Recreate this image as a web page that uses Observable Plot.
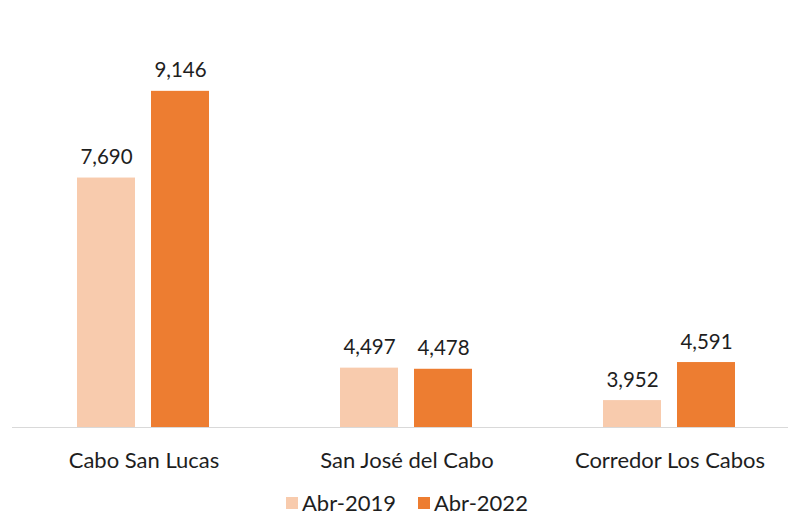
<!DOCTYPE html>
<html>
<head>
<meta charset="utf-8">
<script src="https://cdn.jsdelivr.net/npm/d3@7"></script>
<script src="https://cdn.jsdelivr.net/npm/@observablehq/plot@0.6"></script>
<style>
  html, body { margin: 0; padding: 0; background: #fff; }
  #wrap { position: relative; width: 788px; height: 515px; overflow: hidden; font-family: Lato, sans-serif; color: #1e1e1e; }
  #legend { position: absolute; left: 286px; top: 491px; height: 24px; line-height: 24px; display: flex; align-items: center; font-size: 22px; }
  .item { display: flex; align-items: center; margin-right: 22px; }
  .sw { width: 12px; height: 12px; margin-right: 4px; }
</style>
</head>
<body>
<div id="wrap"><div id="chart"></div><div id="legend"></div></div>
<script>
const categories = ["Cabo San Lucas", "San José del Cabo", "Corredor Los Cabos"];
const series = ["Abr-2019", "Abr-2022"];
const values2019 = [7690, 4497, 3952];
const values2022 = [9146, 4478, 4591];
const colors = ["#F8CBAD", "#ED7D31"];
const yMin = 3500, yMax = 10000;

const data = [];
categories.forEach((c, i) => {
  data.push({category: c, series: series[0], value: values2019[i]});
  data.push({category: c, series: series[1], value: values2022[i]});
});
const fmt = d3.format(",");

const chart = Plot.plot({
  width: 788,
  height: 488,
  marginLeft: 11,
  marginRight: -13,
  marginTop: 40,
  marginBottom: 61,
  style: {fontFamily: "Lato, sans-serif", fontSize: "22px", color: "#1e1e1e", background: "white"},
  fx: {domain: categories, padding: 0, axis: "bottom", label: null, tickSize: 0, tickPadding: 25},
  x: {domain: series, axis: null, paddingInner: 0.2133, paddingOuter: 0.863},
  y: {domain: [yMin, yMax], axis: null},
  color: {domain: series, range: colors},
  marks: [
    Plot.barY(data, {fx: "category", x: "series", y1: yMin, y2: "value", fill: "series"}),
    Plot.ruleY([yMin], {stroke: "#d9d9d9", strokeWidth: 1.2}),
    Plot.text(data, {fx: "category", x: "series", y: "value", text: d => fmt(d.value), lineAnchor: "bottom", dy: -14, fontSize: 20.5, fill: "#1e1e1e"})
  ]
});
document.getElementById("chart").appendChild(chart);

const legend = document.getElementById("legend");
series.forEach((s, i) => {
  const it = document.createElement("div");
  it.className = "item";
  const sw = document.createElement("div");
  sw.className = "sw";
  sw.style.background = colors[i];
  const t = document.createElement("span");
  t.textContent = s;
  it.appendChild(sw); it.appendChild(t);
  legend.appendChild(it);
});
</script>
</body>
</html>
